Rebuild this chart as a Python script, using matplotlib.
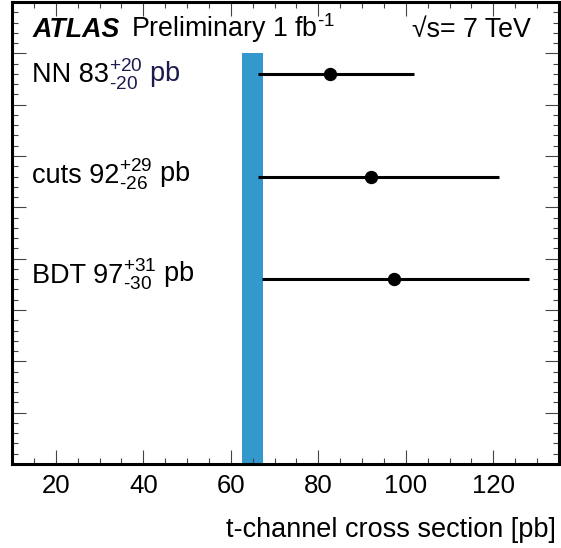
import matplotlib
matplotlib.use('Agg')
import matplotlib.pyplot as plt
from matplotlib.ticker import MultipleLocator

plt.rcParams['font.family'] = ['Liberation Sans', 'DejaVu Sans']
plt.rcParams['mathtext.fontset'] = 'custom'
plt.rcParams['mathtext.rm'] = 'Liberation Sans'
plt.rcParams['mathtext.it'] = 'Liberation Sans:italic'
plt.rcParams['mathtext.bf'] = 'Liberation Sans:bold'

# ---- data ----
methods = ['NN', 'cuts', 'BDT']
quoted = [83, 92, 97]
quoted_up = [20, 29, 31]
quoted_dn = [20, 26, 30]
central = [82.6, 92.1, 97.3]
err_lo = [16.3, 25.9, 30.2]
err_hi = [19.2, 29.1, 30.8]
ypos = [7.6, 5.6, 3.6]
theory = 65.0
theory_err = 2.4
band_top = 8.0
xticks = [20, 40, 60, 80, 100, 120]

# ---- layout ----
label_dy = [0.165, 0.12, 0.07]
label_colors = ['#1c1c4e', 'black', 'black']
FS_LAB = 19.5
FS_HEAD = 19.3
FS_TICK = 18.5
HY = '\u2010'  # short hyphen as in the original

fig = plt.figure(figsize=(5.61, 5.48), dpi=100)
ax = fig.add_axes([12/561, (548-464)/548, (559-12)/561, (464-2)/548])

ax.bar(theory, band_top, width=2*theory_err, bottom=0, color='#3399cc',
       edgecolor='none', zorder=1)
ax.errorbar(central, ypos, xerr=[err_lo, err_hi], fmt='o', color='black',
            ms=8.6, lw=2.2, capsize=0, zorder=3)

ax.set_xlim(10, 135)
ax.set_ylim(0, 9)

fig.canvas.draw()
renderer = fig.canvas.get_renderer()
for m, q, u, d, y, dy, c in zip(methods, quoted, quoted_up, quoted_dn, ypos,
                                label_dy, label_colors):
    t1 = ax.text(14.5, y - dy, f'{m} {q}', fontsize=FS_LAB, ha='left',
                 va='baseline', color='black', zorder=4)
    bb = t1.get_window_extent(renderer=renderer)
    x1 = ax.transData.inverted().transform((bb.x1, 0))[0]
    ax.text(x1, y - dy, f'$^{{+{u}}}_{{{HY}{d}}}$ pb', fontsize=FS_LAB,
            ha='left', va='baseline', color=c, zorder=4)

ax.set_xticks(xticks)
ax.xaxis.set_minor_locator(MultipleLocator(5))
ax.yaxis.set_major_locator(MultipleLocator(1))
ax.yaxis.set_minor_locator(MultipleLocator(0.2))
ax.tick_params(axis='both', which='both', direction='in', top=True,
               right=True, width=0.8, color='#444444')
ax.tick_params(axis='both', which='major', length=10)
ax.tick_params(axis='both', which='minor', length=4.5)
ax.tick_params(axis='x', labelsize=FS_TICK, pad=7)
ax.tick_params(axis='y', labelleft=False)
for s in ax.spines.values():
    s.set_linewidth(2.2)

ax.text((33-12)/547, (464-37.3)/462, 'ATLAS', transform=ax.transAxes,
        fontsize=FS_HEAD, fontweight='bold', fontstyle='italic', ha='left',
        va='baseline')
ax.text((130.7-12)/547, (464-37.3)/462, f'Preliminary 1 fb$^{{{HY}1}}$',
        transform=ax.transAxes, fontsize=FS_HEAD, ha='left', va='baseline')
ax.text((411.7-12)/547, (464-37.3)/462, '√s= 7 TeV',
        transform=ax.transAxes, fontsize=FS_HEAD, ha='left', va='baseline')

fig.text(556/561, (548-537)/548, 't-channel cross section [pb]',
         fontsize=FS_LAB, ha='right', va='baseline')

fig.savefig('out.png', dpi=100)
